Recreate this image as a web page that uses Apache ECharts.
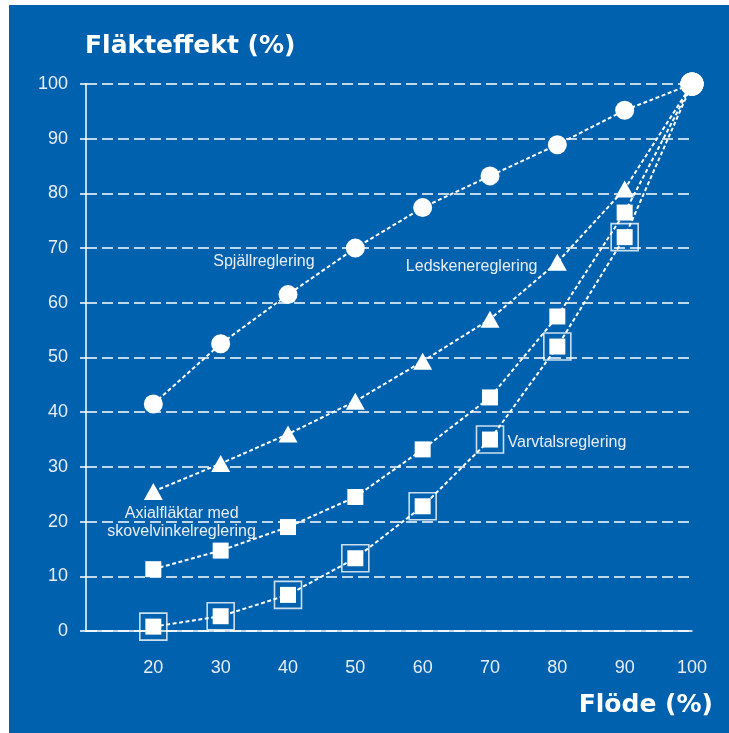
<!DOCTYPE html>
<html>
<head>
<meta charset="utf-8">
<script src="https://cdn.jsdelivr.net/npm/echarts@6/dist/echarts.min.js"></script>
<style>
  html, body { margin: 0; padding: 0; background: #ffffff; }
  #chart { position: absolute; left: 9px; top: 5px; width: 720px; height: 728px; }
</style>
</head>
<body>
<div id="chart"></div>
<script>
// Fan power (%) versus flow (%) for four ways of regulating a fan
const flow = [20, 30, 40, 50, 60, 70, 80, 90, 100];
const yTicks = [0, 10, 20, 30, 40, 50, 60, 70, 80, 90, 100];
const xTicks = [20, 30, 40, 50, 60, 70, 80, 90, 100];

const damper   = [41.5, 52.5, 61.5, 70.0, 77.4, 83.2, 88.9, 95.2, 100]; // Spjällreglering
const guideVane = [25.5, 30.6, 36.0, 42.0, 49.3, 57.0, 67.4, 80.8, 100]; // Ledskenereglering
const axialPitch = [11.3, 14.7, 19.0, 24.5, 33.2, 42.7, 57.5, 76.5, 100]; // Axialfläktar med skovelvinkelreglering
const speed     = [0.8, 2.7, 6.6, 13.3, 22.8, 35.0, 52.0, 72.0, 100];   // Varvtalsreglering

const WHITE = '#ffffff';
const TEXT = '#e9eef6';
const FONT = '"Liberation Sans", Arial, Helvetica, sans-serif';
const BOLD_FONT = '"DejaVu Sans", "Liberation Sans", Arial, sans-serif';

function points(values, endSize) {
  return flow.map((x, i) => {
    if (x === 100) return { value: [x, values[i]], symbol: 'circle', symbolSize: endSize };
    return [x, values[i]];
  });
}

const dash = { color: WHITE, width: 2, type: [4, 2.5] };

const chart = echarts.init(document.getElementById('chart'));
chart.setOption({
  backgroundColor: '#0061ae',
  animation: false,
  grid: { left: 77, right: 37, top: 79, bottom: 102 },
  xAxis: {
    type: 'value', min: 10, max: 100, interval: 10,
    axisLine: { show: true, lineStyle: { color: WHITE, width: 1.5 } },
    axisTick: { show: false },
    splitLine: { show: false },
    axisLabel: {
      color: TEXT, fontSize: 18, fontFamily: FONT, margin: 28,
      formatter: v => (xTicks.indexOf(v) >= 0 ? String(v) : '')
    }
  },
  yAxis: {
    type: 'value', min: 0, max: 100, interval: 10,
    axisLine: { show: true, lineStyle: { color: WHITE, width: 1.5 } },
    axisTick: { show: true, length: 6, lineStyle: { color: WHITE, width: 1.5 } },
    splitLine: { show: true, lineStyle: { color: WHITE, width: 1.5, type: [11, 5] } },
    axisLabel: {
      color: TEXT, fontSize: 18, fontFamily: FONT, margin: 18,
      formatter: v => (yTicks.indexOf(v) >= 0 ? String(v) : '')
    }
  },
  series: [
    {
      name: 'Varvtalsreglering', type: 'line', z: 3,
      data: points(speed, 23), symbol: 'rect', symbolSize: 16,
      itemStyle: { color: WHITE }, lineStyle: dash
    },
    {
      name: 'Varvtalsreglering ram', type: 'scatter', z: 3,
      data: flow.slice(0, 8).map((x, i) => [x, speed[i]]),
      symbol: 'rect', symbolSize: 27,
      itemStyle: { color: 'rgba(0,0,0,0)', borderColor: WHITE, borderWidth: 1.6 }
    },
    {
      name: 'Axialfläktar med skovelvinkelreglering', type: 'line', z: 3,
      data: points(axialPitch, 23), symbol: 'rect', symbolSize: 16,
      itemStyle: { color: WHITE }, lineStyle: dash
    },
    {
      name: 'Ledskenereglering', type: 'line', z: 3,
      data: points(guideVane, 23), symbol: 'triangle', symbolSize: [19, 17],
      itemStyle: { color: WHITE }, lineStyle: dash
    },
    {
      name: 'Spjällreglering', type: 'line', z: 5,
      data: points(damper, 23), symbol: 'circle', symbolSize: 19,
      itemStyle: { color: WHITE }, lineStyle: dash
    }
  ]
});

// Axis titles and curve names, placed in chart coordinates
function at(x, y) { return chart.convertToPixel({ gridIndex: 0 }, [x, y]); }
const label = (pos, text, align) => ({
  type: 'text', x: pos[0], y: pos[1], z: 10,
  style: { text, fill: TEXT, font: '16px ' + FONT, align: align || 'left', verticalAlign: 'middle' }
});

const pSpj = at(28.9, 67.5);
const pLed = at(57.5, 66.7);
const pAx1 = at(24.2, 21.4);
const pAx2 = at(24.2, 18.2);
const pVar = at(72.6, 34.5);

chart.setOption({
  graphic: [
    { type: 'text', left: 76, top: 29, z: 10,
      style: { text: 'Fläkteffekt (%)', fill: WHITE, font: 'bold 25px ' + BOLD_FONT } },
    { type: 'text', right: 16, top: 688, z: 10,
      style: { text: 'Flöde (%)', fill: WHITE, font: 'bold 25px ' + BOLD_FONT } },
    label(pSpj, 'Spjällreglering'),
    label(pLed, 'Ledskenereglering'),
    label(pAx1, 'Axialfläktar med', 'center'),
    label(pAx2, 'skovelvinkelreglering', 'center'),
    label(pVar, 'Varvtalsreglering')
  ]
});
</script>
</body>
</html>
